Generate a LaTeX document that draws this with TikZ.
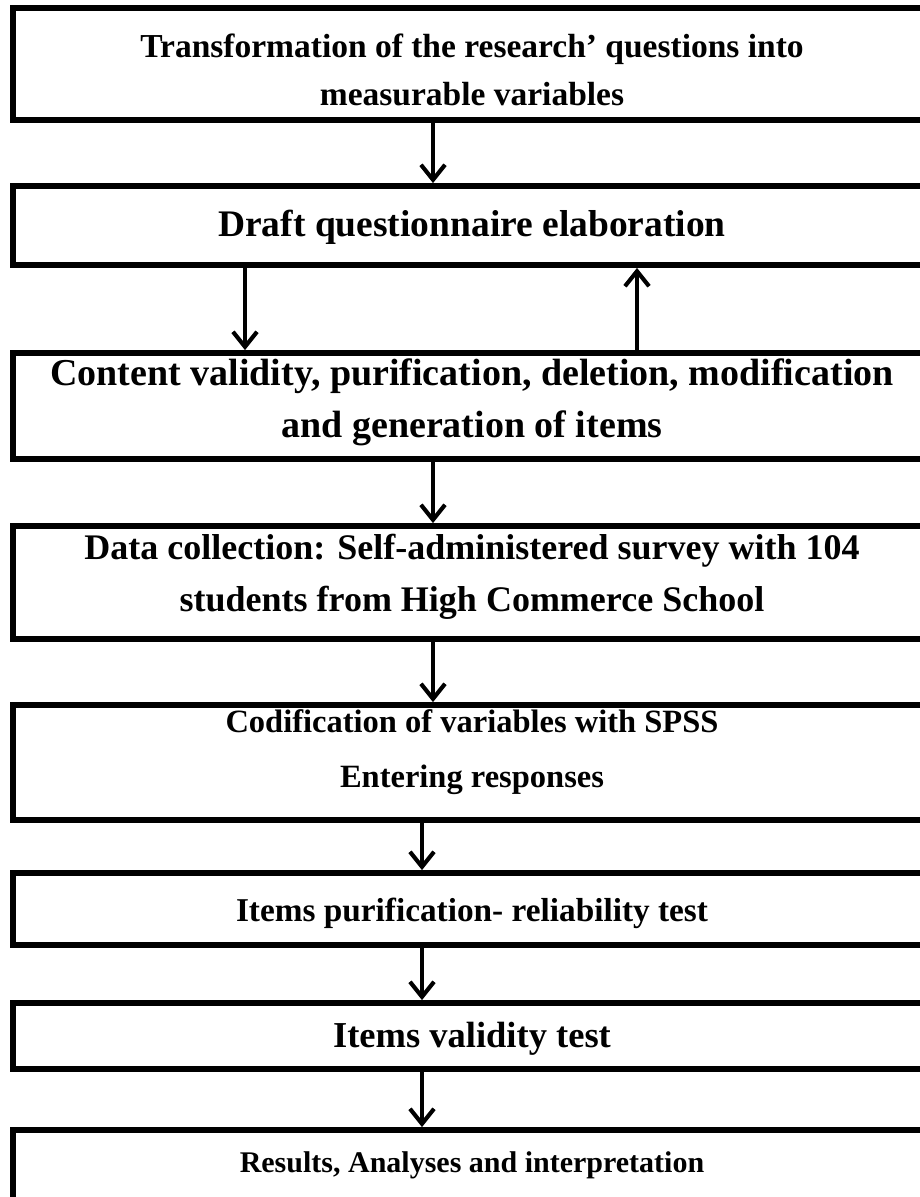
\documentclass[tikz,border=0pt]{standalone}
\usepackage{fontspec}
\setmainfont{Liberation Serif}
\usetikzlibrary{arrows.meta,calc}
\tikzset{
  stagebox/.style={draw=black, line width=6pt, minimum width=918pt, inner sep=0pt},
  stagetext/.style 2 args={align=center, inner sep=0pt,
    font=\bfseries\fontsize{#1}{#2}\selectfont},
  flowarrow/.style={line width=4pt, -{Straight Barb[length=15pt,width=24pt]}},
  flowshadow/.style={flowarrow, draw=black!35},
}
\begin{document}
\begin{tikzpicture}[x=1pt,y=-1pt]
  \fill[white] (0,0) rectangle (920,1197);
  \useasboundingbox (0,0) rectangle (920,1197);

  % process stages (frames)
  \node[stagebox, minimum height=112pt] (b1) at (472,64) {};
  \node[stagebox, minimum height=79pt]  (b2) at (472,225.5) {};
  \node[stagebox, minimum height=106pt] (b3) at (472,406) {};
  \node[stagebox, minimum height=113pt] (b4) at (472,582.5) {};
  \node[stagebox, minimum height=115pt] (b5) at (472,762.5) {};
  \node[stagebox, minimum height=72pt]  (b6) at (472,909) {};
  \node[stagebox, minimum height=66pt]  (b7) at (472,1036) {};
  \node[stagebox, minimum height=70pt]  (b8) at (472,1165) {};

  % stage captions
  \node[stagetext={33.5}{48}] (t1) at ($(b1.center)+(0,6)$)
    {Transformation of the research’ questions into\\measurable variables};
  \node[stagetext={37.5}{48}] (t2) at ($(b2.center)+(0,2)$)
    {Draft questionnaire elaboration};
  \node[stagetext={38}{52}] (t3) at ($(b3.center)+(0,-4)$)
    {Content validity, purification, deletion, modification\\and generation of items};
  \node[stagetext={36}{52}] (t4) at ($(b4.center)+(0,-6)$)
    {Data collection: Self-administered survey with 104\\students from High Commerce School};
  \node[stagetext={32.5}{55}] (t5) at ($(b5.center)+(0,-10)$)
    {Codification of variables with SPSS\\Entering responses};
  \node[stagetext={33.3}{48}] (t6) at ($(b6.center)+(0,4)$)
    {Items purification- reliability test};
  \node[stagetext={36.5}{48}] (t7) at ($(b7.center)+(0,3)$)
    {Items validity test};
  \node[stagetext={30}{48}] (t8) at ($(b8.center)+(0,0)$)
    {Results, Analyses and interpretation};

  % columns of the connectors
  \coordinate (xa) at (433,0);
  \coordinate (xl) at (245,0);
  \coordinate (xr) at (637,0);
  \coordinate (xb) at (422,0);

  % soft shadows under the connectors
  \begin{scope}[shift={(-1.5,2)}]
    \draw[flowshadow] (b1.south -| xa) -- (b2.north -| xa);
    \draw[flowshadow] (b2.south -| xl) -- (b3.north -| xl);
    \draw[flowshadow] (b3.north -| xr) -- (b2.south -| xr);
    \draw[flowshadow] (b3.south -| xa) -- (b4.north -| xa);
    \draw[flowshadow] (b4.south -| xa) -- (b5.north -| xa);
    \draw[flowshadow] (b5.south -| xb) -- (b6.north -| xb);
    \draw[flowshadow] (b6.south -| xb) -- (b7.north -| xb);
    \draw[flowshadow] (b7.south -| xb) -- (b8.north -| xb);
  \end{scope}

  % connectors
  \draw[flowarrow] (b1.south -| xa) -- (b2.north -| xa);
  \draw[flowarrow] (b2.south -| xl) -- (b3.north -| xl);
  \draw[flowarrow] (b3.north -| xr) -- (b2.south -| xr);
  \draw[flowarrow] (b3.south -| xa) -- (b4.north -| xa);
  \draw[flowarrow] (b4.south -| xa) -- (b5.north -| xa);
  \draw[flowarrow] (b5.south -| xb) -- (b6.north -| xb);
  \draw[flowarrow] (b6.south -| xb) -- (b7.north -| xb);
  \draw[flowarrow] (b7.south -| xb) -- (b8.north -| xb);
\end{tikzpicture}
\end{document}
